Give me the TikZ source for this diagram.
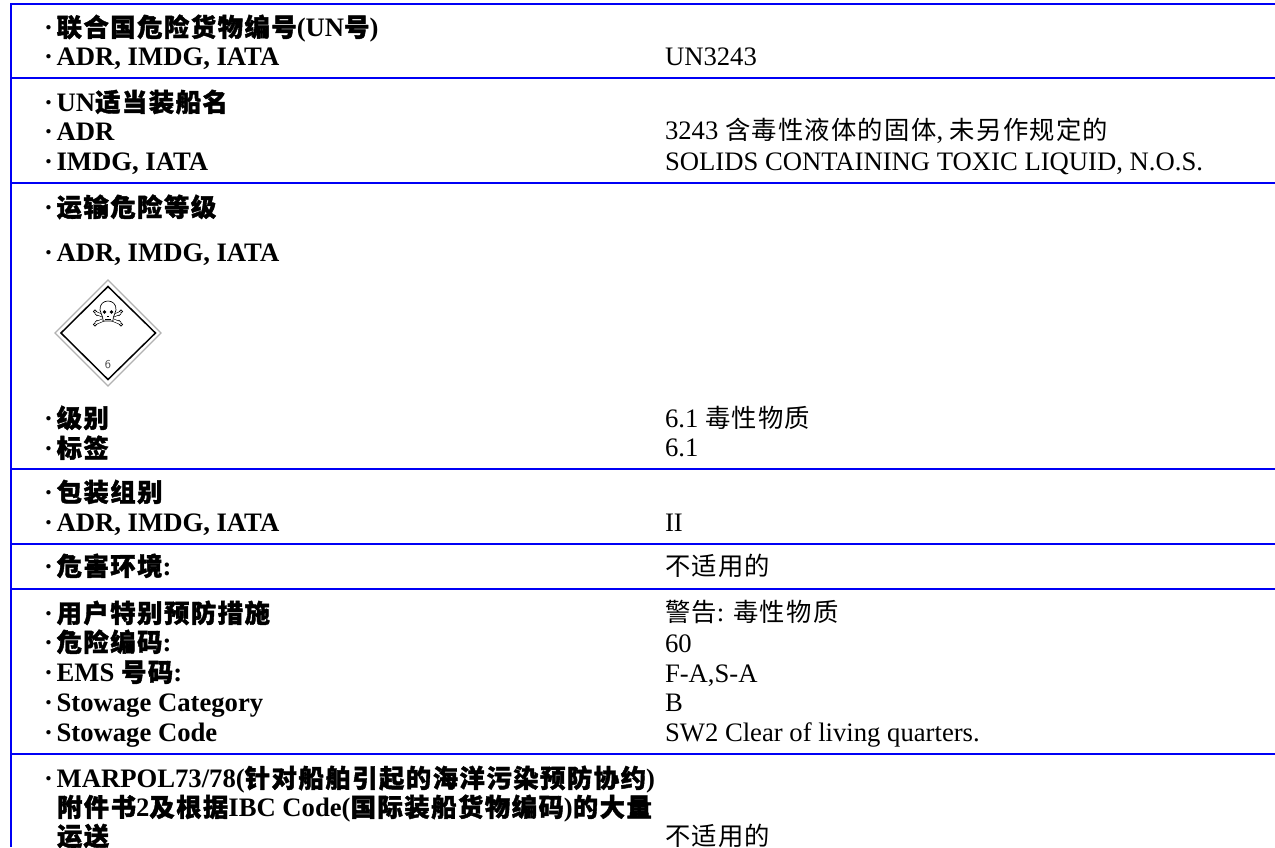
\documentclass[tikz,border=0pt]{standalone}
\usepackage{fontspec}
\setmainfont{Liberation Serif}
\newfontfamily\cjkb[FakeBold=1.6,LetterSpace=6]{Noto Sans CJK SC Bold}
\newfontfamily\cjkr[LetterSpace=5]{Noto Sans CJK SC}
\newcommand{\cb}[1]{{\fontsize{19}{19}\cjkb #1}}
\newcommand{\cn}[1]{{\fontsize{19}{19}\cjkr #1}}
\newcommand{\dotmark}{·\hspace{-2.2pt} }
\definecolor{rule}{RGB}{0,0,245}
\tikzset{
  lab/.style={anchor=base west,inner sep=0pt,outer sep=0pt,font=\fontsize{20}{20}\selectfont\bfseries},
  val/.style={anchor=base west,inner sep=0pt,outer sep=0pt,font=\fontsize{20}{20}\selectfont},
  rulel/.style={draw=rule,line width=1.5pt},
  bone/.style={line width=2.4pt,line cap=round,draw=black},
  bonein/.style={line width=1.5pt,line cap=round,draw=white},
  knob/.style={draw=black,fill=white,line width=0.5pt}
}
\begin{document}
\begin{tikzpicture}[x=0.75pt,y=-0.75pt]
\useasboundingbox (0,0) rectangle (1275,847);
\fill[white] (0,0) rectangle (1275,847);
\foreach \yy in {3.5,78,183,469,544,589,754} \draw[rulel] (10,\yy) -- (1275,\yy);
\draw[rulel] (10.5,3) -- (10.5,847);
% placard
\draw[gray!60,line width=0.9pt] (108,280) -- (161,333) -- (108,386) -- (55,333) -- cycle;
\draw[black,line width=1.1pt] (108,286.5) -- (155.5,333) -- (108,379.5) -- (61,333) -- cycle;
\draw[bone] (96,313) -- (120,323) (120,313) -- (96,323);
\foreach \xx/\yy in {95/311.5,97/314,121/311.5,119/314,95/324.5,97/322,121/324.5,119/322}
  \draw[knob] (\xx,\yy) circle (1.7);
\draw[bonein] (96,313) -- (120,323) (120,313) -- (96,323);
\draw[fill=white,draw=black,line width=0.5pt] (100,310) .. controls (99,298) and (117,298) .. (116,310) .. controls (116,314) and (113,314) .. (113,321) -- (103,321) .. controls (103,314) and (100,314) .. (100,310) -- cycle;
\fill[black] (104.5,312) circle (1.8) (111.5,312) circle (1.8);
\fill[black] (107.3,315.5) rectangle (108.7,317);
\draw[black,line width=0.4pt] (105,319) -- (111,319);
\node[anchor=center,inner sep=0pt,text=black!70,font=\sffamily\fontsize{9}{9}\selectfont] (six) at (108,365) {6};
% labels
\begin{scope}[yshift=-0.4pt]
\node[lab] (a1) at (44,36) {\dotmark\cb{联合国危险货物编号}(UN\cb{号})};
\node[lab] (a2) at (44,65) {\dotmark ADR, IMDG, IATA};
\node[val] (a3) at (665,65) {UN3243};
\node[lab] (b1) at (44,111) {\dotmark UN\cb{适当装船名}};
\node[lab] (b2) at (44,140) {\dotmark ADR};
\node[lab] (b3) at (44,170) {\dotmark IMDG, IATA};
\node[val] (b4) at (665,139) {3243 \cn{含毒性液体的固体}, \cn{未另作规定的}};
\node[val] (b5) at (665,170) {SOLIDS CONTAINING TOXIC LIQUID, N.O.S.};
\node[lab] (c1) at (44,216) {\dotmark\cb{运输危险等级}};
\node[lab] (c2) at (44,261) {\dotmark ADR, IMDG, IATA};
\node[lab] (c3) at (44,427) {\dotmark\cb{级别}};
\node[val] (c4) at (665,427) {6.1 \cn{毒性物质}};
\node[lab] (c5) at (44,457) {\dotmark\cb{标签}};
\node[val] (c6) at (665,456) {6.1};
\node[lab] (d1) at (44,501) {\dotmark\cb{包装组别}};
\node[lab] (d2) at (44,531) {\dotmark ADR, IMDG, IATA};
\node[val] (d3) at (665,531) {II};
\node[lab] (e1) at (44,575) {\dotmark\cb{危害环境}:};
\node[val] (e2) at (665,575) {\cn{不适用的}};
\node[lab] (f1) at (44,622) {\dotmark\cb{用户特别预防措施}};
\node[val] (f2) at (665,621) {\cn{警告}: \cn{毒性物质}};
\node[lab] (f3) at (44,651) {\dotmark\cb{危险编码}:};
\node[val] (f4) at (665,652) {60};
\node[lab] (f5) at (44,681) {\dotmark EMS \cb{号码}:};
\node[val] (f6) at (665,682) {F-A,S-A};
\node[lab] (f7) at (44,711) {\dotmark Stowage Category};
\node[val] (f8) at (665,711) {B};
\node[lab] (f9) at (44,741) {\dotmark Stowage Code};
\node[val] (f10) at (665,741) {SW2 Clear of living quarters.};
\node[lab] (g1) at (44,787) {\dotmark MARPOL73/78(\cb{针对船舶引起的海洋污染预防协约})};
\node[lab] (g2) at (57,816) {\cb{附件书}2\cb{及根据}IBC Code(\cb{国际装船货物编码})\cb{的大量}};
\node[lab] (g3) at (57,845) {\cb{运送}};
\node[val] (g4) at (665,845) {\cn{不适用的}};
\end{scope}
\end{tikzpicture}
\end{document}
